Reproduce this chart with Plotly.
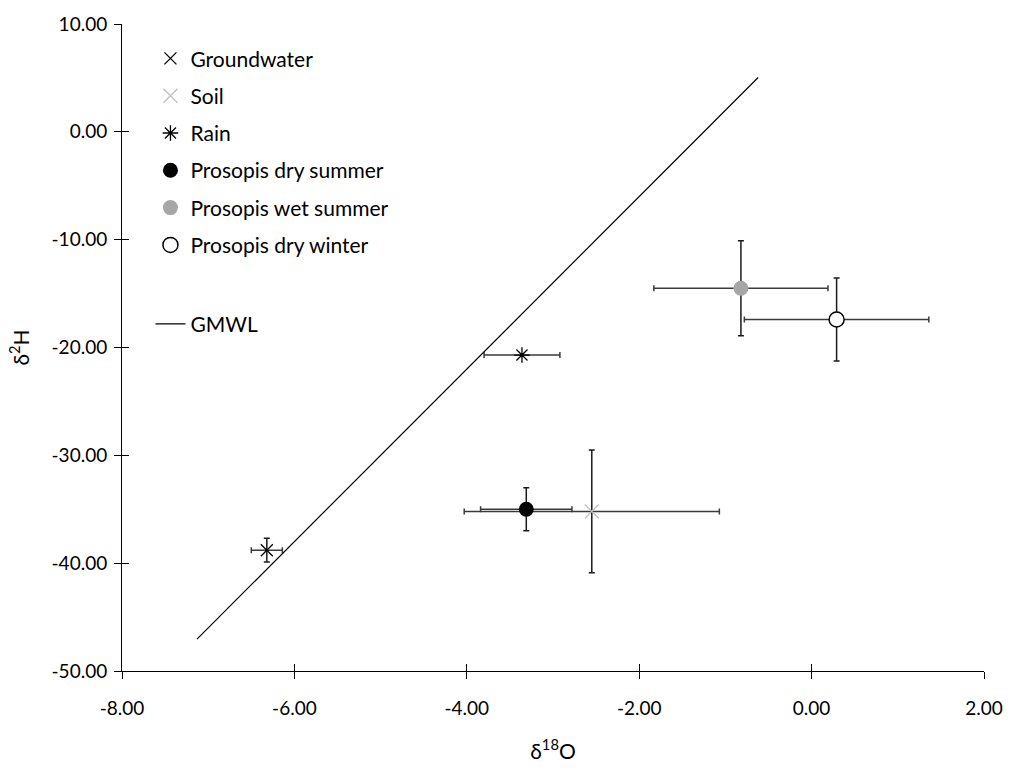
import plotly.graph_objects as go

# ---- data ----
names = ["Groundwater", "Soil", "Rain", "Prosopis dry summer", "Prosopis wet summer", "Prosopis dry winter"]
d18O = [-6.32, -2.55, -3.36, -3.31, -0.82, 0.29]
d18O_err = [0.18, 1.48, 0.44, 0.53, 1.01, 1.07]
d2H = [-38.8, -35.2, -20.7, -35.0, -14.5, -17.4]
d2H_err = [1.1, 5.7, 0.0, 2.0, 4.4, 3.85]

gmwl_x = [-7.13, -0.62]
gmwl_y = [-47.04, 5.04]

x_ticks = [-8, -6, -4, -2, 0, 2]
y_ticks = [10, 0, -10, -20, -30, -40, -50]

# ---- styles ----
symbols = ["x-thin-open", "x-thin-open", "asterisk-open", "circle", "circle", "circle"]
mcolors = ["#000000", "#BFBFBF", "#000000", "#000000", "#A6A6A6", "#FFFFFF"]
lcolors = ["#000000", "#BFBFBF", "#000000", "#000000", "#A6A6A6", "#000000"]
lwidths = [1.3, 1.3, 1.3, 0, 0, 1.5]
sizes = [12, 14, 13, 15, 15, 15]

FONT = "Lato"
fig = go.Figure()

for i, n in enumerate(names):
    fig.add_trace(go.Scatter(
        x=[d18O[i]], y=[d2H[i]], mode="markers", name=n,
        legendgroup=n, legend="legend",
        marker=dict(symbol=symbols[i], color=mcolors[i], size=sizes[i],
                    line=dict(color=lcolors[i], width=lwidths[i])),
        error_x=dict(type="data", array=[d18O_err[i]], color="#3A3A3A", thickness=1.5, width=3),
        error_y=dict(type="data", array=[d2H_err[i]], color="#1A1A1A", thickness=1.5, width=3,
                     visible=d2H_err[i] > 0),
    ))

fig.add_trace(go.Scatter(
    x=gmwl_x, y=gmwl_y, mode="lines", name="GMWL", legend="legend2",
    line=dict(color="#000000", width=1.2),
))

# overlaying axes only to draw the inner half of the crossing ticks
fig.add_trace(go.Scatter(x=[None], y=[None], xaxis="x2", yaxis="y2", showlegend=False))

tick_font = dict(family=FONT, size=19, color="#000000")
fig.update_layout(
    width=1015, height=771,
    margin=dict(l=122, r=28, t=20, b=100),
    paper_bgcolor="white", plot_bgcolor="white",
    font=dict(family=FONT, size=21, color="#000000"),
    showlegend=True,
    xaxis=dict(range=[-8, 2], tickvals=x_ticks, ticktext=[f"{v:.2f}" for v in x_ticks],
               showgrid=False, zeroline=False, showline=True, linecolor="#000000", linewidth=1,
               ticks="outside", ticklen=7, tickwidth=1, tickcolor="#000000",
               tickfont=tick_font, ticklabelstandoff=13,
               title=dict(text="δ<sup>18</sup>O", font=dict(family=FONT, size=21), standoff=26)),
    yaxis=dict(range=[-50, 10], tickvals=y_ticks, ticktext=[f"{v:.2f}" for v in y_ticks],
               showgrid=False, zeroline=False, showline=True, linecolor="#000000", linewidth=1,
               ticks="outside", ticklen=7, tickwidth=1, tickcolor="#000000",
               tickfont=tick_font, ticklabelstandoff=3,
               title=dict(text="δ<sup>2</sup>H", font=dict(family=FONT, size=21), standoff=16)),
    xaxis2=dict(range=[-8, 2], overlaying="x", anchor="y", tickvals=x_ticks, showticklabels=False,
                showgrid=False, zeroline=False, showline=False,
                ticks="inside", ticklen=7, tickwidth=1, tickcolor="#000000"),
    yaxis2=dict(range=[-50, 10], overlaying="y", anchor="x", tickvals=y_ticks, showticklabels=False,
                showgrid=False, zeroline=False, showline=False,
                ticks="inside", ticklen=7, tickwidth=1, tickcolor="#000000"),
    legend=dict(x=0.033, y=0.978, xanchor="left", yanchor="top", bgcolor="rgba(0,0,0,0)",
                font=dict(family=FONT, size=21), tracegroupgap=7, itemwidth=30),
    legend2=dict(x=0.033, y=0.536, xanchor="left", yanchor="middle", bgcolor="rgba(0,0,0,0)",
                 font=dict(family=FONT, size=21), itemwidth=30),
)

fig.write_html("out.html")
